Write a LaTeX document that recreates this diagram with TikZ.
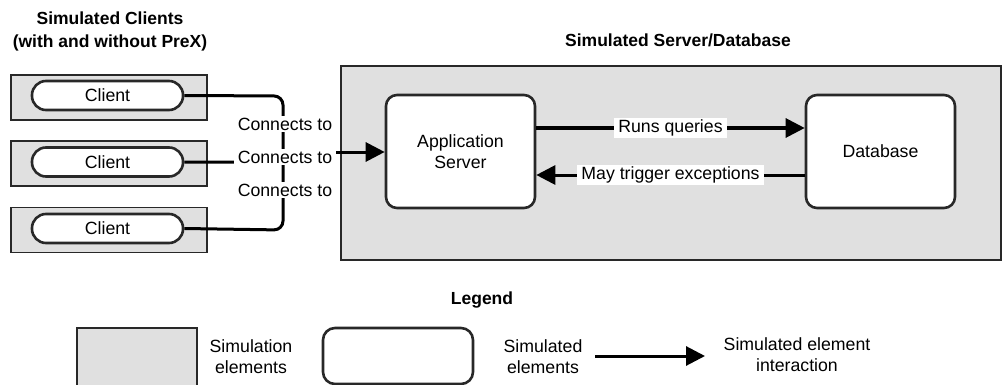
\documentclass[tikz,border=0pt]{standalone}
\usepackage{fontspec}
\setmainfont{Liberation Sans}
\usetikzlibrary{arrows.meta}
\definecolor{simgray}{RGB}{224,224,224}
\definecolor{edgegray}{RGB}{40,40,40}
\tikzset{
  simarea/.style={draw=edgegray, line width=1.5pt, fill=simgray, inner sep=0pt},
  simelem/.style={draw=edgegray, line width=2.6pt, fill=white, inner sep=0pt},
  txt/.style={font=\fontsize{17.7}{21}\selectfont, align=center, inner sep=0pt},
  heading/.style={font=\fontsize{17.5}{23}\selectfont\bfseries, align=center, inner sep=0pt},
  lbl/.style={txt, fill=white, inner xsep=4pt, inner ysep=2pt},
  link/.style={line width=3pt, black},
  flow/.style={link, -{Triangle[length=19pt,width=19pt]}},
  bus/.style={link, rounded corners=9pt}
}
\begin{document}
\begin{tikzpicture}[x=1pt,y=-1pt]
\useasboundingbox (0,0) rectangle (1003,385);

% headings
\node[heading] (hclients) at (110,31) {Simulated Clients\\(with and without PreX)};
\node[heading] (hserver) at (678,40) {Simulated Server/Database};

% client side
\foreach \i/\y in {1/97.5, 2/163.5, 3/230} {
  \node[simarea, minimum width=196pt, minimum height=45pt] (g\i) at (109,\y) {};
}
\node[simelem, rounded corners=14pt, minimum width=151pt, minimum height=29pt, txt] (c1) at (107.5,95.5) {Client};
\node[simelem, rounded corners=14pt, minimum width=151pt, minimum height=29pt, txt] (c2) at (107.5,162) {Client};
\node[simelem, rounded corners=14pt, minimum width=151pt, minimum height=29pt, txt] (c3) at (107.5,228.5) {Client};

% server side
\node[simarea, minimum width=660pt, minimum height=194pt] (srv) at (671,163) {};
\node[simelem, rounded corners=11pt, minimum width=149pt, minimum height=113pt, txt] (app) at (460.5,151.5) {Application\\Server};
\node[simelem, rounded corners=11pt, minimum width=149pt, minimum height=113pt, txt] (db) at (880.5,151.5) {Database};

% connections from the clients
\coordinate (bus1) at (283,96);
\coordinate (bus3) at (283,230);
\coordinate (join) at (283,152);
\coordinate (jog) at (283,162);
\draw[bus] (c1.east) -- (bus1) -- (join);
\draw[bus] (c3.east) -- (bus3) -- (join);
\draw[bus] (c2.east) -- (jog) -- (join);
\node[lbl] (l1) at (285,124) {Connects to};
\node[lbl] (l2) at (285,157) {Connects to};
\node[lbl] (l3) at (285,190) {Connects to};
\draw[flow] (l2.east |- join) -- (app.west |- join);

% server interactions
\draw[flow] (app.east |- 0,128) -- node[lbl] (q) {Runs queries} (db.west |- 0,128);
\draw[flow] (db.west |- 0,175) -- node[lbl] (ex) {May trigger exceptions} (app.east |- 0,175);

% legend
\node[heading] (leg) at (482,300) {Legend};
\node[simarea, minimum width=120pt, minimum height=58pt] (lg1) at (137,357) {};
\node[txt] (lt1) at (251,357) {Simulation\\elements};
\node[simelem, rounded corners=12pt, minimum width=150pt, minimum height=56pt] (lg2) at (398,356) {};
\node[txt] (lt2) at (543,357) {Simulated\\elements};
\coordinate (la) at (595,356);
\coordinate (lb) at (705,356);
\draw[flow] (la) -- (lb);
\node[txt] (lt3) at (797,355) {Simulated element\\interaction};
\end{tikzpicture}
\end{document}
